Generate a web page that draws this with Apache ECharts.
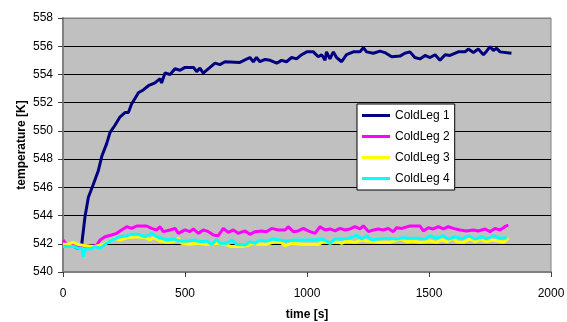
<!DOCTYPE html>
<html>
<head>
<meta charset="utf-8">
<script src="https://cdn.jsdelivr.net/npm/echarts@6/dist/echarts.min.js"></script>
<style>
html,body{margin:0;padding:0;background:#fff;}
#chart{width:567px;height:322px;}
</style>
</head>
<body>
<div id="chart"></div>
<script>
var seriesNames = ["ColdLeg 1", "ColdLeg 2", "ColdLeg 3", "ColdLeg 4"];
var xTicks = [0, 500, 1000, 1500, 2000];
var yTicks = [540, 542, 544, 546, 548, 550, 552, 554, 556, 558];

var t1 = [0,20,40,60,70,77,90,104,124,145,159,179,193,213,234,254,268,281,295,309,329,350,377,398,404,418,439,459,480,500,514,535,548,561,575,589,623,643,664,725,766,780,793,807,828,849,876,896,916,937,957,978,999,1026,1046,1060,1074,1080,1094,1108,1121,1142,1162,1190,1217,1231,1244,1272,1299,1319,1347,1381,1401,1422,1442,1463,1484,1504,1525,1545,1566,1586,1620,1648,1661,1682,1702,1723,1736,1750,1764,1777,1791,1838];
var v1 = [541.9,541.9,541.85,541.7,541.75,542.0,543.9,545.3,546.2,547.2,548.2,549.1,549.9,550.4,551.0,551.3,551.3,551.9,552.3,552.7,552.9,553.2,553.4,553.7,553.4,554.1,554.0,554.4,554.3,554.5,554.5,554.5,554.2,554.45,554.1,554.3,554.8,554.7,554.9,554.85,555.2,554.9,555.2,554.9,555.06,555.0,554.8,555.0,554.9,555.2,555.1,555.4,555.6,555.6,555.25,555.4,555.0,555.6,555.1,555.6,555.2,554.9,555.4,555.6,555.6,555.9,555.6,555.5,555.65,555.55,555.25,555.3,555.5,555.6,555.2,555.1,555.35,555.2,555.4,555.0,555.4,555.35,555.6,555.6,555.8,555.55,555.8,555.4,555.65,555.96,555.7,555.85,555.6,555.5];

var t2 = [0,5,15,29,60,90,111,138,152,172,199,220,240,261,281,302,343,363,384,398,411,439,459,473,500,520,534,555,575,596,616,623,636,657,677,698,718,746,766,787,814,834,855,882,910,923,944,964,985,1005,1033,1053,1074,1094,1115,1135,1156,1176,1197,1217,1231,1252,1258,1272,1292,1313,1333,1354,1367,1388,1422,1463,1477,1497,1518,1538,1559,1579,1600,1627,1654,1682,1702,1730,1750,1770,1791,1811,1825];
var v2 = [542.27,542.3,541.95,541.9,541.9,541.85,541.8,541.9,542.27,542.5,542.62,542.74,542.98,543.21,543.09,543.26,543.26,543.09,542.98,543.21,542.86,542.98,543.09,542.74,542.98,542.86,543.05,542.74,542.98,542.86,542.62,542.74,542.57,543.09,542.81,542.98,542.74,542.91,542.67,542.86,542.91,542.86,543.09,542.98,542.98,543.21,542.86,542.91,543.09,542.91,542.74,543.21,542.98,543.05,542.91,543.09,542.98,543.05,543.21,543.05,543.28,542.86,542.74,542.98,543.05,542.98,543.09,542.86,543.14,543.09,543.26,543.26,542.91,543.14,543.05,543.21,543.05,543.21,543.09,542.98,542.91,542.98,542.91,543.05,542.86,543.09,542.98,543.21,543.33];

var t3 = [0,20,42,60,90,124,165,193,213,234,261,302,336,357,370,398,425,452,473,486,520,548,589,630,664,691,732,759,773,800,834,869,889,910,937,978,1012,1046,1074,1094,1121,1142,1162,1197,1224,1244,1272,1299,1340,1381,1409,1436,1463,1484,1504,1531,1552,1572,1600,1613,1641,1668,1689,1709,1736,1757,1784,1805,1825];
var v3 = [541.96,541.96,542.1,541.96,541.87,541.8,541.96,542.2,542.39,542.27,542.43,542.5,542.43,542.27,542.43,542.2,542.1,542.15,542.39,542.03,541.96,542.03,541.96,542.03,541.96,541.8,541.8,541.87,542.03,541.96,541.96,542.15,542.15,541.87,542.03,541.96,541.96,541.96,542.2,542.03,542.15,542.03,542.2,542.1,542.27,542.2,542.15,542.1,542.1,542.34,542.15,542.2,542.1,542.15,542.2,542.1,542.29,542.15,542.39,542.15,542.1,542.34,542.15,542.29,542.15,542.27,542.2,542.1,542.39];

var t4 = [0,20,45,63,77,83,94,111,131,152,172,193,213,234,261,281,309,336,363,384,404,425,452,480,507,534,561,589,610,630,643,671,691,712,746,766,787,807,834,862,889,916,951,992,1033,1060,1080,1094,1115,1142,1169,1190,1203,1224,1244,1265,1286,1326,1367,1395,1422,1456,1484,1504,1531,1559,1579,1607,1634,1661,1689,1716,1736,1764,1791,1818];
var v4 = [541.8,541.8,541.8,541.68,541.68,541.09,541.68,541.63,541.8,541.68,541.96,542.2,542.34,542.5,542.57,542.67,542.67,542.5,542.74,542.5,542.39,542.27,542.34,542.2,542.2,542.27,542.15,542.2,541.95,542.3,542.03,542.03,542.27,541.96,541.91,542.15,542.03,542.27,542.2,542.34,542.27,542.2,542.27,542.27,542.27,542.34,542.2,542.03,542.34,542.34,542.39,542.5,542.62,542.34,542.57,542.27,542.34,542.39,542.34,542.43,542.39,542.39,542.34,542.57,542.39,542.57,542.34,542.5,542.34,542.57,542.34,542.5,542.34,542.57,542.39,542.43];

function pairs(t, v) { return t.map(function (x, i) { return [x, v[i]]; }); }

var colors = ['#000080', '#FF00FF', '#FFFF00', '#00FFFF'];
var data = [pairs(t1, v1), pairs(t2, v2), pairs(t3, v3), pairs(t4, v4)];

var FONT = 'Liberation Sans, Arial, sans-serif';
var chart = echarts.init(document.getElementById('chart'), null, {renderer: 'canvas'});
var splitColors = yTicks.map(function (v, i) { return i === yTicks.length - 1 ? '#808080' : '#000000'; });

chart.setOption({
  animation: false,
  backgroundColor: '#ffffff',
  textStyle: {fontFamily: FONT, color: '#000'},
  grid: {left: 63, right: 16, top: 18, bottom: 50, show: true, backgroundColor: '#C0C0C0', borderColor: '#808080', borderWidth: 1, containLabel: false, outerBoundsMode: 'none'},
  legend: {
    data: seriesNames,
    orient: 'vertical',
    left: 357, top: 104,
    backgroundColor: '#ffffff',
    borderColor: '#000000', borderWidth: 1,
    padding: [5, 5, 5, 5],
    itemGap: 8,
    itemWidth: 28, itemHeight: 3,
    itemTextGap: 2,
    icon: 'rect',
    textStyle: {fontFamily: FONT, fontSize: 12, color: '#000', lineHeight: 13}
  },
  xAxis: {
    type: 'value', min: xTicks[0], max: xTicks[xTicks.length - 1], interval: 500,
    name: 'time [s]', nameLocation: 'middle', nameGap: 37, nameMoveOverlap: false,
    nameTextStyle: {fontFamily: FONT, fontSize: 12, fontWeight: 'bold', color: '#000'},
    axisLine: {show: true, lineStyle: {color: '#808080', width: 2}},
    axisTick: {show: true, inside: false, length: 5, lineStyle: {color: '#404040'}},
    axisLabel: {fontFamily: FONT, fontSize: 12, color: '#000', margin: 16, formatter: function (v) { return String(v); }},
    splitLine: {show: false}
  },
  yAxis: {
    type: 'value', min: yTicks[0], max: yTicks[yTicks.length - 1], interval: 2,
    name: 'temperature [K]', nameLocation: 'middle', nameGap: 35, nameRotate: 90, nameMoveOverlap: false,
    nameTextStyle: {fontFamily: FONT, fontSize: 12, fontWeight: 'bold', color: '#000'},
    axisLine: {show: true, lineStyle: {color: '#808080', width: 2}},
    axisTick: {show: true, inside: false, length: 5, lineStyle: {color: '#404040'}},
    axisLabel: {fontFamily: FONT, fontSize: 12, color: '#000', margin: 10, formatter: function (v) { return String(v); }},
    splitLine: {show: true, lineStyle: {color: splitColors, width: 1}}
  },
  series: seriesNames.map(function (n, i) {
    return {
      name: n, type: 'line', data: data[i],
      showSymbol: false, symbol: 'none',
      color: colors[i],
      lineStyle: {color: colors[i], width: 3},
      z: 2 + i
    };
  })
});
</script>
</body>
</html>
